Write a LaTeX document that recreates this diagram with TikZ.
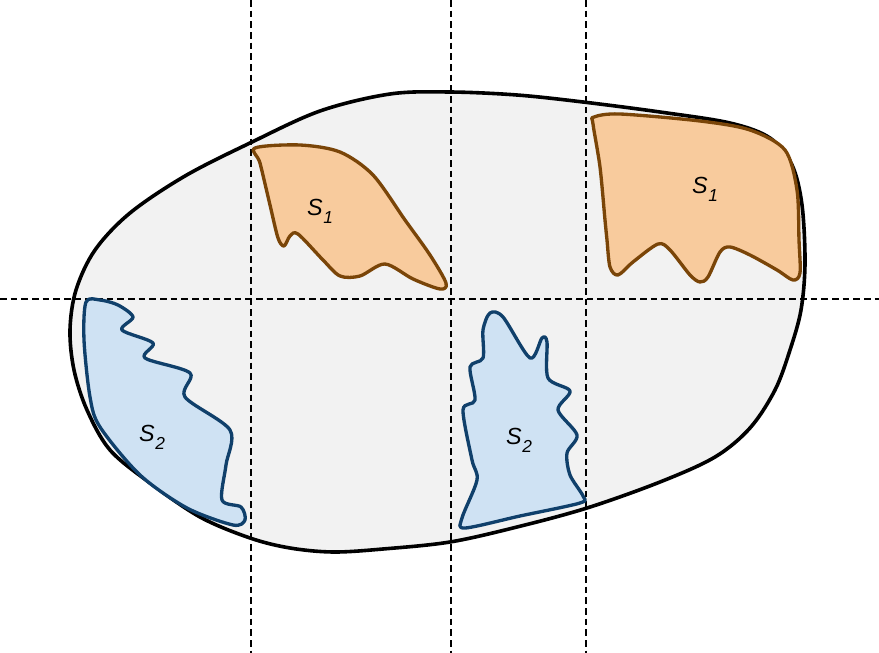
\documentclass[tikz,border=0pt]{standalone}
\usepackage{fontspec}
\setmainfont{Liberation Sans}
\begin{document}
\begin{tikzpicture}[x=0.75pt,y=-0.75pt,
  blob/.style={draw=black,line width=2.7pt,fill=blobfill},
  orangeshape/.style={draw=orangeline,line width=2.5pt,fill=orangefill,line join=round},
  blueshape/.style={draw=blueline,line width=2.5pt,fill=bluefill,line join=round},
  grid/.style={draw=black,line width=1.3pt,dash pattern=on 5pt off 3pt},
  lbl/.style={inner sep=0pt,font=\fontsize{17.5}{20}\selectfont\itshape}]
\definecolor{blobfill}{HTML}{F2F2F2}
\definecolor{orangefill}{HTML}{F8CB9D}
\definecolor{orangeline}{HTML}{7A4508}
\definecolor{bluefill}{HTML}{CFE2F3}
\definecolor{blueline}{HTML}{10406B}
\useasboundingbox (0,0) rectangle (879,653);
% big region
\draw[blob] plot[smooth cycle,tension=0.55] coordinates {
 (450,92) (517,95) (583,102) (660,112) (730,123) (770,138) (792,165)
 (802,205) (805,263) (801,310) (790,350) (775,390) (750,428) (715,457)
 (660,482) (587,508) (517,527) (450,542) (383,549) (333,552) (290,548)
 (250,538) (200,517) (150,483) (110,450) (87,410) (74,370) (70,330)
 (76,290) (95,250) (130,213) (185,176) (250,143) (320,111) (390,94)};
% grid lines
\coordinate (v1t) at (251,0); \coordinate (v1b) at (251,653);
\coordinate (v2t) at (451,0); \coordinate (v2b) at (451,653);
\coordinate (v3t) at (586,0); \coordinate (v3b) at (586,653);
\coordinate (hl) at (0,299); \coordinate (hr) at (879,299);
\draw[grid] (v1t) -- (v1b);
\draw[grid] (v2t) -- (v2b);
\draw[grid] (v3t) -- (v3b);
\draw[grid] (hl) -- (hr);
% orange S1 left
\draw[orangeshape] plot[smooth cycle,tension=0.5] coordinates {
 (255,148) (300,145) (340,152) (373,175) (405,220) (430,255) (446,283)
 (440,289) (413,279) (385,264) (360,276) (340,276) (323,260) (298,234)
 (290,236) (284,246) (278,238) (270,205) (260,163)};
% orange S1 right
\draw[orangeshape] plot[smooth cycle,tension=0.5] coordinates {
 (594,117) (620,114) (700,121) (750,130) (785,150) (797,190) (799,240)
 (800,273) (793,280) (777,270) (750,255) (730,247) (720,252) (708,277)
 (700,282) (690,275) (670,250) (658,244) (633,262) (618,275) (610,267)
 (607,240) (605,220) (600,167) (593,124)};
% blue S2 left
\draw[blueshape] plot[smooth cycle,tension=0.5] coordinates {
 (86,302) (100,300) (118,305) (133,317) (122,330) (153,343) (145,358)
 (190,373) (185,397) (230,430) (226,465) (222,500) (241,507) (245,520)
 (233,525) (187,508) (140,475) (100,427) (90,397) (84,340)};
% blue S2 middle
\draw[blueshape] plot[smooth cycle,tension=0.5] coordinates {
 (465,528) (520,516) (580,503) (583,496) (570,475) (567,453) (577,435)
 (558,410) (570,391) (548,378) (547,342) (542,338) (530,358) (503,317)
 (490,313) (483,330) (483,358) (470,367) (475,400) (463,410) (472,460)
 (477,480) (462,518)};
% labels
\node[lbl] (l1) at (320,211) {S\kern0.5pt\raisebox{-6pt}{\fontsize{13}{14}\selectfont 1}};
\node[lbl] (l2) at (705,189) {S\kern0.5pt\raisebox{-6pt}{\fontsize{13}{14}\selectfont 1}};
\node[lbl] (l3) at (152,437) {S\kern0.5pt\raisebox{-6pt}{\fontsize{13}{14}\selectfont 2}};
\node[lbl] (l4) at (519,440) {S\kern0.5pt\raisebox{-6pt}{\fontsize{13}{14}\selectfont 2}};
\end{tikzpicture}
\end{document}
